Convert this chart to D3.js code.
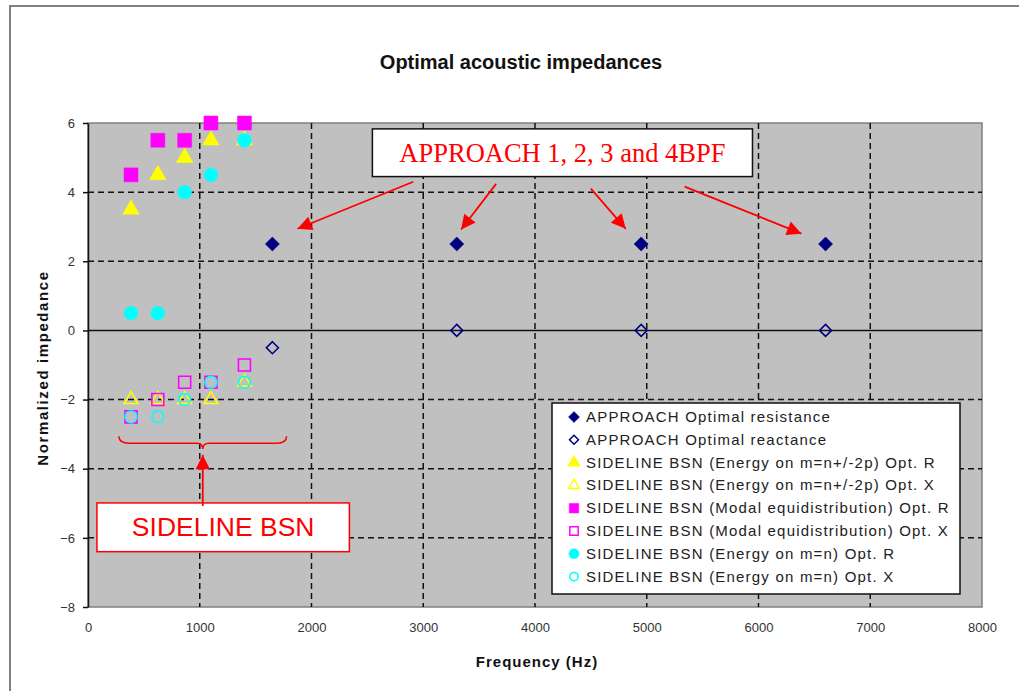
<!DOCTYPE html>
<html>
<head>
<meta charset="utf-8">
<script src="https://cdn.jsdelivr.net/npm/d3@7"></script>
<style>
  html, body { margin: 0; padding: 0; background: #fff; }
  svg { display: block; font-family: "Liberation Sans", Arial, sans-serif; }
</style>
</head>
<body>
<svg id="chart" width="1019" height="691"></svg>
<script>
// ---- data ----
const xTicks = [0, 1000, 2000, 3000, 4000, 5000, 6000, 7000, 8000];
const yTicks = [-8, -6, -4, -2, 0, 2, 4, 6];

const approachFreq = [1650, 3300, 4950, 6600];
const approachResistance = [2.5, 2.5, 2.5, 2.5];
const approachReactance = [-0.5, 0, 0, 0];

const sidelineFreq = [385, 625, 865, 1100, 1400];
const energyPmR = [3.5, 4.5, 5.0, 5.5, 5.5];
const energyPmX = [-2.0, -2.0, -2.0, -2.0, -1.5];
const modalR = [4.5, 5.5, 5.5, 6.0, 6.0];
const modalX = [-2.5, -2.0, -1.5, -1.5, -1.0];
const energyEqR = [0.5, 0.5, 4.0, 4.5, 5.5];
const energyEqX = [-2.5, -2.5, -2.0, -1.5, -1.5];

const seriesNames = [
  "APPROACH Optimal resistance",
  "APPROACH Optimal reactance",
  "SIDELINE BSN (Energy on m=n+/-2p) Opt. R",
  "SIDELINE BSN (Energy on m=n+/-2p) Opt. X",
  "SIDELINE BSN (Modal equidistribution) Opt. R",
  "SIDELINE BSN (Modal equidistribution) Opt. X",
  "SIDELINE BSN (Energy on m=n) Opt. R",
  "SIDELINE BSN (Energy on m=n) Opt. X"
];

// callouts, in chart units (Hz, normalized impedance)
const approachLabel = "APPROACH 1, 2, 3 and 4BPF";
const approachBox = [2545, 5.83, 5946, 4.45];
const approachArrows = [
  [2911, 4.30, 1875, 2.94],
  [3652, 4.24, 3339, 2.92],
  [4500, 4.10, 4812, 2.94],
  [5339, 4.16, 6384, 2.80]
];
const sidelineLabel = "SIDELINE BSN";
const sidelineBox = [80, -4.99, 2339, -6.40];
const sidelineArrow = [1027, -5.08, 1027, -3.60];
const braceSpan = [277, 1777];
const braceLevels = [-3.06, -3.26, -3.43];

// ---- layout ----
const svg = d3.select("#chart");
const x = d3.scaleLinear().domain([0, 8000]).range([88, 982]);
const y = d3.scaleLinear().domain([-8, 6]).range([607, 123]);

// outer frame
svg.append("rect").attr("x", 10).attr("y", 6).attr("width", 1030).attr("height", 720)
  .attr("fill", "#fff").attr("stroke", "#808080").attr("stroke-width", 2);

svg.append("text").attr("x", 521).attr("y", 69).attr("text-anchor", "middle")
  .attr("font-weight", "bold").attr("font-size", 20).attr("fill", "#111")
  .text("Optimal acoustic impedances");

// plot area
svg.append("rect").attr("x", x(0)).attr("y", y(6))
  .attr("width", x(8000) - x(0)).attr("height", y(-8) - y(6))
  .attr("fill", "#c0c0c0").attr("stroke", "#808080").attr("stroke-width", 1.5);

const grid = svg.append("g").attr("stroke", "#111").attr("stroke-width", 1.5)
  .attr("stroke-dasharray", "6,4");
grid.selectAll("line.v").data(xTicks.filter(d => d > 0 && d < 8000)).join("line")
  .attr("x1", d => x(d)).attr("x2", d => x(d)).attr("y1", y(6)).attr("y2", y(-8));
grid.selectAll("line.h").data(yTicks.filter(d => d !== 0 && d > -8 && d < 6)).join("line")
  .attr("x1", x(0)).attr("x2", x(8000)).attr("y1", d => y(d)).attr("y2", d => y(d));

// axes
const yAxis = d3.axisLeft(y).tickValues(yTicks).tickSize(5).tickPadding(8).tickSizeOuter(0);
const gy = svg.append("g").attr("transform", `translate(${x(0)},0)`).call(yAxis);
gy.select(".domain").attr("stroke", "#111").attr("stroke-width", 1.5);
gy.selectAll(".tick line").attr("stroke", "#111").attr("stroke-width", 1.5);
gy.selectAll("text").attr("font-size", 13).attr("fill", "#333")
  .attr("font-family", "'Liberation Sans', Arial, sans-serif");

// zero line carries the category axis
svg.append("line").attr("x1", x(0)).attr("x2", x(8000)).attr("y1", y(0)).attr("y2", y(0))
  .attr("stroke", "#111").attr("stroke-width", 1.5);

const xAxis = d3.axisBottom(x).tickValues(xTicks).tickSize(0).tickPadding(16).tickFormat(d3.format("d"));
const gx = svg.append("g").attr("transform", `translate(0,${y(-8)})`).call(xAxis);
gx.select(".domain").remove();
gx.selectAll("text").attr("font-size", 13).attr("fill", "#333")
  .attr("font-family", "'Liberation Sans', Arial, sans-serif");

svg.append("text").attr("x", 537).attr("y", 667).attr("text-anchor", "middle")
  .attr("font-weight", "bold").attr("font-size", 15).attr("letter-spacing", 1).attr("fill", "#111")
  .text("Frequency (Hz)");
svg.append("text").attr("transform", "translate(48,368) rotate(-90)").attr("text-anchor", "middle")
  .attr("font-weight", "bold").attr("font-size", 15).attr("letter-spacing", 1.6).attr("fill", "#111")
  .text("Normalized impedance");

// ---- markers ----
const diamond = {
  draw(ctx, size) {
    const r = Math.sqrt(size / 2);
    ctx.moveTo(0, -r); ctx.lineTo(r, 0); ctx.lineTo(0, r); ctx.lineTo(-r, 0); ctx.closePath();
  }
};
const styles = [
  { type: diamond, size: 100, fill: "#000080", stroke: "#000080", open: false },
  { type: diamond, size: 72, fill: "none", stroke: "#000080", open: true },
  { type: d3.symbolTriangle, size: 120, fill: "#ffff00", stroke: "#ffff00", open: false },
  { type: d3.symbolTriangle, size: 80, fill: "none", stroke: "#ffff00", open: true },
  { type: d3.symbolSquare, size: 196, fill: "#ff00ff", stroke: "#ff00ff", open: false },
  { type: d3.symbolSquare, size: 144, fill: "none", stroke: "#ff00ff", open: true },
  { type: d3.symbolCircle, size: 150, fill: "#00ffff", stroke: "#00ffff", open: false },
  { type: d3.symbolCircle, size: 110, fill: "none", stroke: "#00ffff", open: true }
];
const seriesData = [
  [approachFreq, approachResistance],
  [approachFreq, approachReactance],
  [sidelineFreq, energyPmR],
  [sidelineFreq, energyPmX],
  [sidelineFreq, modalR],
  [sidelineFreq, modalX],
  [sidelineFreq, energyEqR],
  [sidelineFreq, energyEqX]
];

seriesData.forEach(([xs, ys], i) => {
  const s = styles[i];
  const pts = xs.map((f, k) => ({ f, v: ys[k] }));
  svg.append("g").selectAll("path").data(pts).join("path")
    .attr("transform", d => `translate(${x(d.f)},${y(d.v)})`)
    .attr("d", d3.symbol().type(s.type).size(s.size)())
    .attr("fill", s.fill).attr("stroke", s.stroke)
    .attr("stroke-width", s.open ? 1.6 : 0.5);
});

// ---- callouts ----
svg.append("defs").append("marker").attr("id", "head")
  .attr("viewBox", "0 0 10 10").attr("refX", 10).attr("refY", 5)
  .attr("markerWidth", 9).attr("markerHeight", 8).attr("markerUnits", "strokeWidth")
  .attr("orient", "auto")
  .append("path").attr("d", "M0,0 L10,5 L0,10 Z").attr("fill", "#ff0000");

const ann = svg.append("g");
ann.append("rect")
  .attr("x", x(approachBox[0])).attr("y", y(approachBox[1]))
  .attr("width", x(approachBox[2]) - x(approachBox[0]))
  .attr("height", y(approachBox[3]) - y(approachBox[1]))
  .attr("fill", "#fff").attr("stroke", "#111").attr("stroke-width", 1.5);
ann.append("text")
  .attr("x", (x(approachBox[0]) + x(approachBox[2])) / 2)
  .attr("y", (y(approachBox[1]) + y(approachBox[3])) / 2 + 9)
  .attr("text-anchor", "middle").attr("fill", "#ff0000")
  .attr("font-family", "'Liberation Serif', 'Times New Roman', serif").attr("font-size", 26.5)
  .text(approachLabel);
ann.selectAll("line.arr").data(approachArrows).join("line")
  .attr("x1", d => x(d[0])).attr("y1", d => y(d[1]))
  .attr("x2", d => x(d[2])).attr("y2", d => y(d[3]))
  .attr("stroke", "#ff0000").attr("stroke-width", 1.8).attr("marker-end", "url(#head)");

ann.append("rect")
  .attr("x", x(sidelineBox[0])).attr("y", y(sidelineBox[1]))
  .attr("width", x(sidelineBox[2]) - x(sidelineBox[0]))
  .attr("height", y(sidelineBox[3]) - y(sidelineBox[1]))
  .attr("fill", "#fff").attr("stroke", "#ff0000").attr("stroke-width", 1.5);
ann.append("text")
  .attr("x", (x(sidelineBox[0]) + x(sidelineBox[2])) / 2)
  .attr("y", (y(sidelineBox[1]) + y(sidelineBox[3])) / 2 + 9)
  .attr("text-anchor", "middle").attr("fill", "#ff0000")
  .attr("font-size", 26.5).text(sidelineLabel);
ann.append("line")
  .attr("x1", x(sidelineArrow[0])).attr("y1", y(sidelineArrow[1]))
  .attr("x2", x(sidelineArrow[2])).attr("y2", y(sidelineArrow[3]))
  .attr("stroke", "#ff0000").attr("stroke-width", 1.8).attr("marker-end", "url(#head)");

// curly brace under the sideline cluster
const bx0 = x(braceSpan[0]), bx1 = x(braceSpan[1]), bm = (bx0 + bx1) / 2;
const by0 = y(braceLevels[0]), by1 = y(braceLevels[1]), by2 = y(braceLevels[2]);
const bracePath = d3.path();
bracePath.moveTo(bx0, by0);
bracePath.quadraticCurveTo(bx0, by1, bx0 + 10, by1);
bracePath.lineTo(bm - 6, by1);
bracePath.quadraticCurveTo(bm, by1, bm, by2);
bracePath.quadraticCurveTo(bm, by1, bm + 6, by1);
bracePath.lineTo(bx1 - 10, by1);
bracePath.quadraticCurveTo(bx1, by1, bx1, by0);
ann.append("path").attr("d", bracePath.toString())
  .attr("fill", "none").attr("stroke", "#ff0000").attr("stroke-width", 1.5);

// ---- legend ----
const lg = svg.append("g");
lg.append("rect").attr("x", 552).attr("y", 403).attr("width", 408).attr("height", 191)
  .attr("fill", "#fff").attr("stroke", "#111").attr("stroke-width", 1.5);
const legendSizes = [60, 40, 70, 50, 90, 70, 80, 56];
seriesNames.forEach((name, i) => {
  const s = styles[i];
  const cy = 417 + i * 22.8;
  lg.append("path").attr("transform", `translate(574,${cy})`)
    .attr("d", d3.symbol().type(s.type).size(legendSizes[i])())
    .attr("fill", s.fill).attr("stroke", s.stroke).attr("stroke-width", s.open ? 1.5 : 0.5);
  lg.append("text").attr("x", 586).attr("y", cy + 5)
    .attr("font-size", 15).attr("letter-spacing", 1.2).attr("fill", "#222").text(name);
});
</script>
</body>
</html>
